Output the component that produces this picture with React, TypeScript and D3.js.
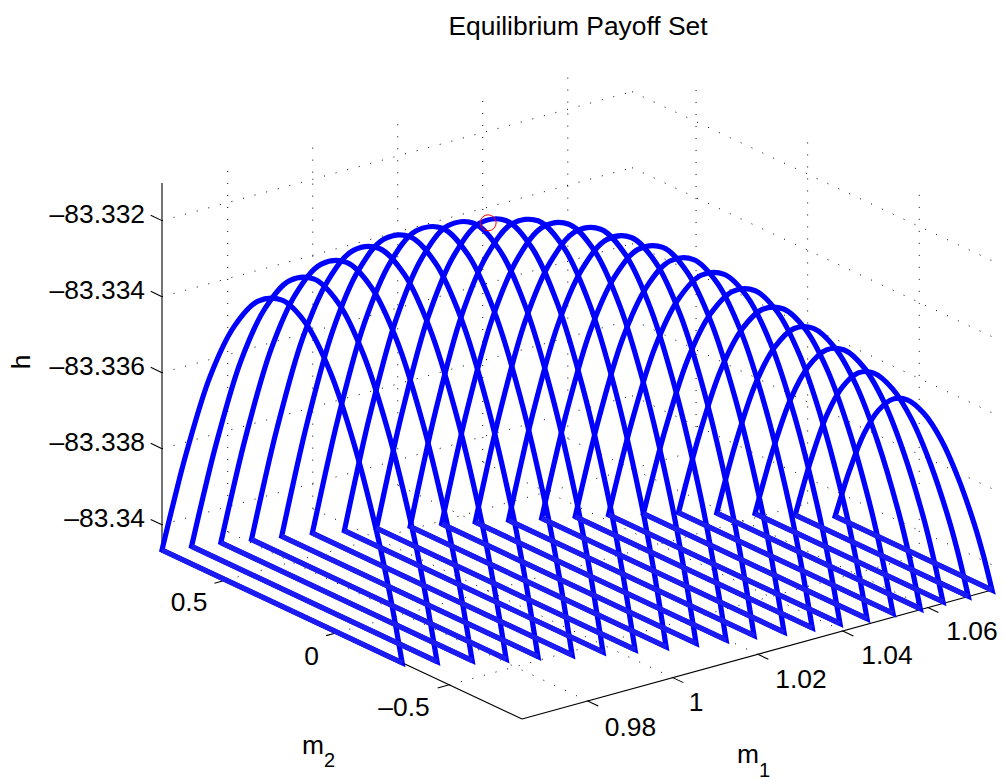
import React from "react";
import * as d3 from "d3";

const title = "Equilibrium Payoff Set";

// Axis limits
const m1Limits = [0.96454, 1.0751];
const m2Limits = [0.787, -0.826];
const hLimits = [-83.340666, -83.33101];

const m1Ticks = [0.98, 1, 1.02, 1.04, 1.06];
const m1TickLabels = ["0.98", "1", "1.02", "1.04", "1.06"];
const m2Ticks = [0.5, 0, -0.5];
const m2TickLabels = ["0.5", "0", "–0.5"];
const hTicks = [-83.34, -83.338, -83.336, -83.334, -83.332];
const hTickLabels = ["–83.34", "–83.338", "–83.336", "–83.334", "–83.332"];

// One closed loop per m1 value: base line on the floor, arch above it
const loopM1 = [0.96454, 0.97007, 0.9756, 0.98113, 0.98666, 0.99219, 0.99772, 1.00325, 1.00878, 1.01431, 1.01984, 1.02537, 1.0309, 1.03643, 1.04196, 1.04749, 1.05302, 1.05855, 1.06408, 1.06961, 1.0751];
const loopM2Start = [0.787, 0.76, 0.734, 0.702, 0.672, 0.64, 0.602, 0.563, 0.518, 0.482, 0.437, 0.393, 0.35, 0.305, 0.261, 0.21, 0.158, 0.092, 0.026, -0.049, -0.123];
const loopM2End = [-0.289, -0.34, -0.392, -0.439, -0.476, -0.524, -0.557, -0.595, -0.629, -0.658, -0.687, -0.707, -0.736, -0.757, -0.776, -0.792, -0.803, -0.82, -0.816, -0.824, -0.826];
const loopPeakH = [-83.33261, -83.33212, -83.33174, -83.33143, -83.3312, -83.33104, -83.33098, -83.33097, -83.33104, -83.33121, -83.33141, -83.33171, -83.33204, -83.33244, -83.33291, -83.33342, -83.33401, -83.33461, -83.33526, -83.33596, -83.33671];
// Where across the loop the peak sits
const loopPeakAt = [0.5, 0.5, 0.5, 0.5, 0.5, 0.5, 0.5, 0.5, 0.5, 0.5, 0.5, 0.5, 0.5, 0.5, 0.5, 0.5, 0.49, 0.475, 0.475, 0.455, 0.46];

// Measured arch profile: position across the loop, share of the peak height
const archT = [0, 0.05, 0.1, 0.2, 0.3, 0.4, 0.5, 0.6, 0.7, 0.8, 0.9, 0.95, 1];
const archShare = [0, 0.18, 0.35, 0.64, 0.84, 0.96, 1, 0.96, 0.84, 0.64, 0.37, 0.2, 0];

const bestPoint = { m1: 1.00325, m2: 0.063, h: -83.33125 };

const vScale = d3.scaleLinear().domain(m1Limits).range([0, 1]);
const uScale = d3.scaleLinear().domain(m2Limits).range([0, 1]);
const zScale = d3.scaleLinear().domain(hLimits).range([0, 367]);

function project(m1: number, m2: number, h: number): [number, number] {
  const v = vScale(m1);
  const u = uScale(m2);
  return [162 + 360 * u + 470 * v, 550 + 169 * u - 129 * v - zScale(h)];
}

const [m1Min, m1Max] = m1Limits;
const [m2Hi, m2Lo] = m2Limits;
const [hMin, hMax] = hLimits;

const linePath = d3.line();
const archPath = d3.line().curve(d3.curveCatmullRom.alpha(0.5));

function seg(a: [number, number, number], b: [number, number, number]) {
  return linePath([project(a[0], a[1], a[2]), project(b[0], b[1], b[2])]) as string;
}

const FONT = "'Liberation Sans', Arial, sans-serif";
const FS = 26.4;
const SUB = 20;

export default function App() {
  const grid: string[] = [];
  hTicks.forEach((h) => {
    grid.push(seg([m1Min, m2Hi, h], [m1Max, m2Hi, h]));
    grid.push(seg([m1Max, m2Hi, h], [m1Max, m2Lo, h]));
  });
  m1Ticks.forEach((m) => {
    grid.push(seg([m, m2Hi, hMin], [m, m2Hi, hMax]));
    grid.push(seg([m, m2Lo, hMin], [m, m2Hi, hMin]));
  });
  m2Ticks.forEach((m) => {
    grid.push(seg([m1Max, m, hMin], [m1Max, m, hMax]));
    grid.push(seg([m1Min, m, hMin], [m1Max, m, hMin]));
  });

  const loops = loopM1.map((m1, i) => {
    const peak = loopPeakAt[i];
    const warp = d3.scaleLinear().domain([0, 0.5, 1]).range([0, peak, 1]);
    const pts = archT.map((t, k) => {
      const m2 = loopM2Start[i] + (loopM2End[i] - loopM2Start[i]) * warp(t);
      const h = hMin + (loopPeakH[i] - hMin) * archShare[k];
      return project(m1, m2, h);
    });
    return (archPath(pts) as string) + "Z";
  });

  const tickM2Len = 12 / Math.hypot(470, 129);
  const best = project(bestPoint.m1, bestPoint.m2, bestPoint.h);

  const m1LabelPos: [number, number][] = [[630.5, 736], [696, 711], [801, 687.5], [887, 664], [972, 640]];
  const m2LabelPos: [number, number][] = [[189, 611], [311.5, 664.5], [404, 716]];

  return (
    <svg width={1003} height={780} style={{ position: "absolute", left: 0, top: 0, display: "block", background: "#fff" }} fontFamily={FONT} fontSize={FS} fill="#000">
      <text x={578} y={35} textAnchor="middle">{title}</text>

      <g stroke="#000" strokeWidth={1} strokeDasharray="1 11" fill="none">
        {grid.map((d, i) => <path key={i} d={d} />)}
      </g>

      <g stroke="#000" strokeWidth={1.1} fill="none">
        <path d={seg([m1Min, m2Hi, hMax], [m1Min, m2Hi, hMin])} />
        <path d={seg([m1Min, m2Hi, hMin], [m1Min, m2Lo, hMin])} />
        <path d={seg([m1Min, m2Lo, hMin], [m1Max, m2Lo, hMin])} />
        {hTicks.map((h) => {
          const [x, y] = project(m1Min, m2Hi, h);
          return <path key={h} d={linePath([[x, y], [x - 11.3, y - 5.3]]) as string} />;
        })}
        {m2Ticks.map((m) => {
          const [x, y] = project(m1Min, m, hMin);
          return <path key={m} d={linePath([[x, y], [x - 470 * tickM2Len, y + 129 * tickM2Len]]) as string} />;
        })}
        {m1Ticks.map((m) => {
          const [x, y] = project(m, m2Lo, hMin);
          return <path key={m} d={linePath([[x, y], [x + 10.6, y + 5]]) as string} />;
        })}
      </g>

      <g stroke="#0000ff" strokeWidth={5.2} strokeLinejoin="miter" fill="none">
        {loops.map((d, i) => <path key={i} d={d} />)}
      </g>
      <g stroke="#1c1cf2" strokeWidth={5} fill="none">
        {loopM1.map((m1, i) => (
          <path key={i} d={seg([m1, loopM2Start[i], hMin], [m1, loopM2End[i], hMin])} />
        ))}
      </g>

      <circle cx={best[0]} cy={best[1]} r={8} fill="none" stroke="#ff0000" strokeWidth={1} />

      {hTicks.map((h, i) => {
        const [, y] = project(m1Min, m2Hi, h);
        return <text key={h} x={145} y={y + 2} textAnchor="end">{hTickLabels[i]}</text>;
      })}
      {m2TickLabels.map((s, i) => (
        <text key={s} x={m2LabelPos[i][0]} y={m2LabelPos[i][1]} textAnchor="middle">{s}</text>
      ))}
      {m1TickLabels.map((s, i) => (
        <text key={s} x={m1LabelPos[i][0]} y={m1LabelPos[i][1]} textAnchor="middle">{s}</text>
      ))}

      <text x={0} y={0} transform="translate(30,362) rotate(-90)" textAnchor="middle">h</text>
      <text x={302} y={754}>m</text>
      <text x={324} y={767} fontSize={SUB}>2</text>
      <text x={737} y={763}>m</text>
      <text x={759} y={777} fontSize={SUB}>1</text>
    </svg>
  );
}
